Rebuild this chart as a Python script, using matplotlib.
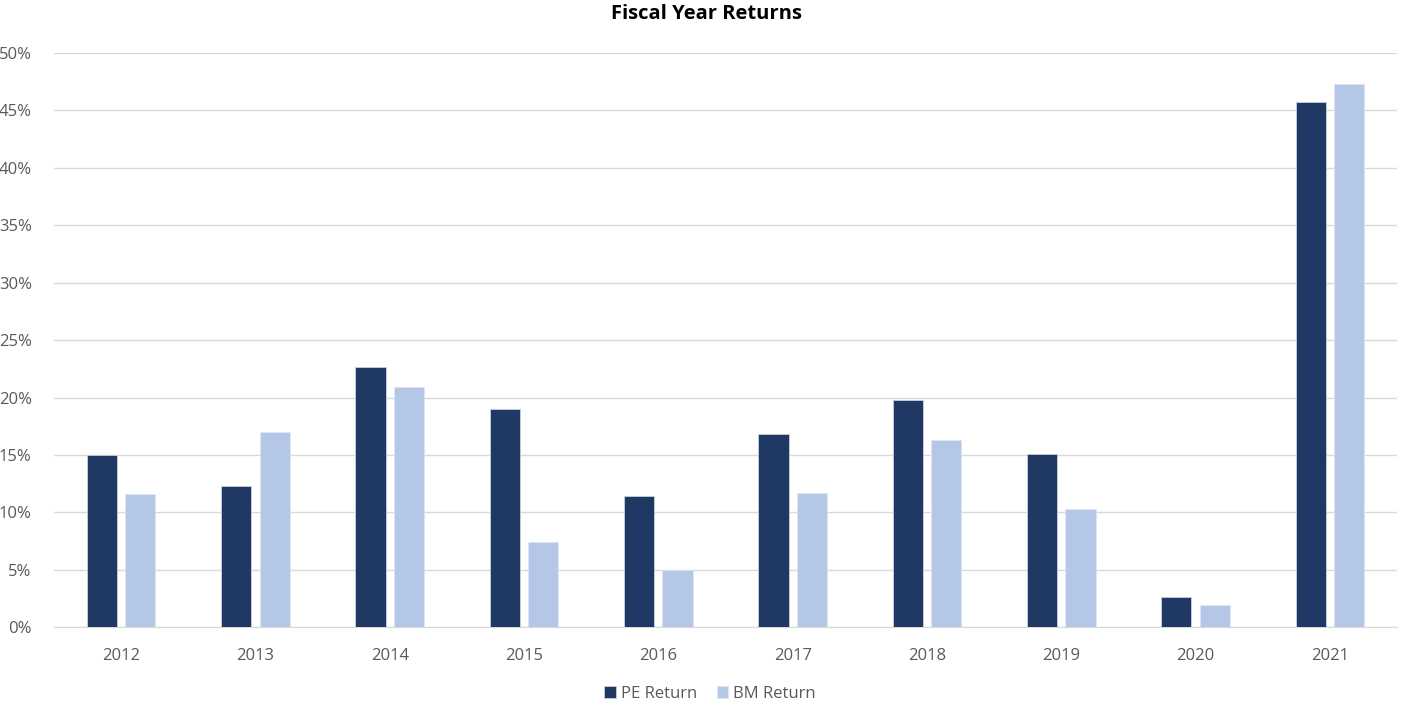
import matplotlib
matplotlib.use("Agg")
import matplotlib.pyplot as plt
import numpy as np
from matplotlib.ticker import FuncFormatter, MultipleLocator

years = ["2012", "2013", "2014", "2015", "2016", "2017", "2018", "2019", "2020", "2021"]
pe_return = [15.0, 12.3, 22.7, 19.0, 11.4, 16.8, 19.8, 15.1, 2.6, 45.7]
bm_return = [11.6, 17.0, 20.9, 7.4, 5.0, 11.7, 16.3, 10.3, 1.9, 47.3]

plt.rcParams['font.family'] = ['Open Sans', 'DejaVu Sans']

fig = plt.figure(figsize=(14.01, 7.07), dpi=100)
ax = fig.add_axes([54/1401, 1-627.3/707, (1397-54)/1401, (627.3-53)/707])

x = np.arange(len(years))
w = 0.225
off = 0.143
ax.bar(x - off, pe_return, width=w, color="#203864", edgecolor="#c8d0dc", linewidth=0.6, label="PE Return", zorder=3)
ax.bar(x + off, bm_return, width=w, color="#B4C7E7", edgecolor="#dde6f4", linewidth=0.6, label="BM Return", zorder=3)

ax.set_xlim(-0.5, len(years) - 0.5)
ax.set_ylim(0, 50)
ax.yaxis.set_major_locator(MultipleLocator(5))
ax.yaxis.set_major_formatter(FuncFormatter(lambda v, p: f"{v:.0f}%"))
ax.set_xticks(x)
ax.set_xticklabels(years)
ax.grid(axis="y", color="#d9d9d9", linewidth=1, zorder=0)
for s in ["top", "right", "left"]:
    ax.spines[s].set_visible(False)
ax.spines["bottom"].set_color("#d9d9d9")
ax.tick_params(axis="both", length=0, colors="#595959", labelsize=12)
ax.tick_params(axis="x", pad=15)
ax.tick_params(axis="y", pad=16)

fig.text(0.504, 1-14/707, "Fiscal Year Returns", ha="center", va="center", fontsize=14.5, fontweight="bold", color="#000000")

leg = fig.legend(loc="center", bbox_to_anchor=(710/1401, 1-694/707), ncol=2, frameon=False,
                 fontsize=12, handlelength=0.7, handleheight=0.7, handletextpad=0.3, columnspacing=1.2)
for t in leg.get_texts():
    t.set_color("#595959")

fig.savefig("out.png", dpi=100, facecolor="white")
